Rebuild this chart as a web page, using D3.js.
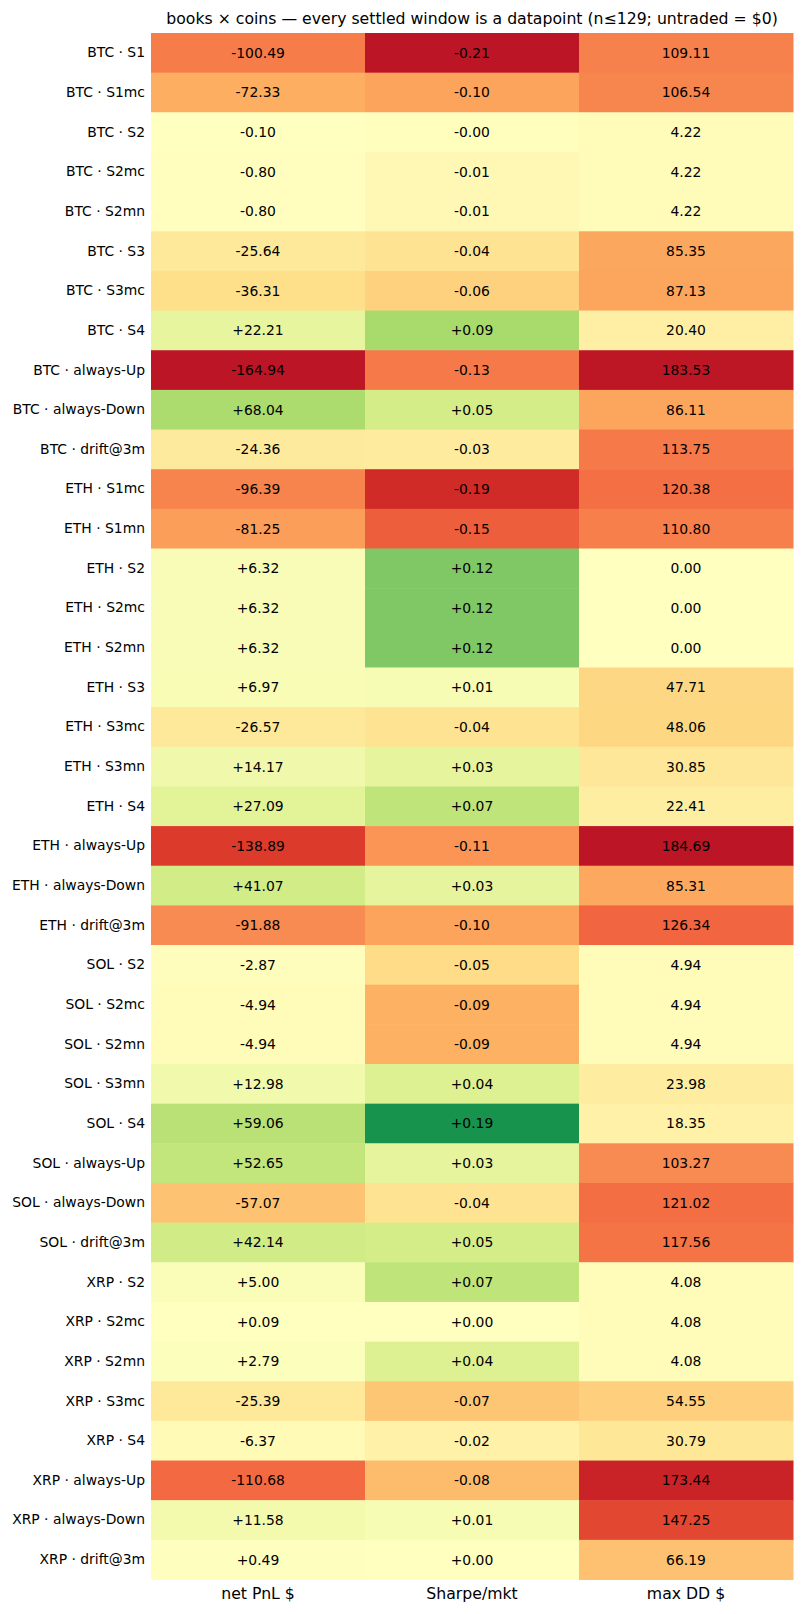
<!DOCTYPE html>
<html>
<head>
<meta charset="utf-8">
<script src="https://cdn.jsdelivr.net/npm/d3@7"></script>
<style>
  body { margin: 0; background: #fff; }
  text { font-family: "DejaVu Sans", sans-serif; fill: #000; }
</style>
</head>
<body>
<div id="heat"></div>
<script>
// row labels (book x coin)
const rows = [
  "BTC · S1", "BTC · S1mc", "BTC · S2", "BTC · S2mc", "BTC · S2mn", "BTC · S3", "BTC · S3mc", "BTC · S4",
  "BTC · always-Up", "BTC · always-Down", "BTC · drift@3m",
  "ETH · S1mc", "ETH · S1mn", "ETH · S2", "ETH · S2mc", "ETH · S2mn", "ETH · S3", "ETH · S3mc", "ETH · S3mn",
  "ETH · S4", "ETH · always-Up", "ETH · always-Down", "ETH · drift@3m",
  "SOL · S2", "SOL · S2mc", "SOL · S2mn", "SOL · S3mn", "SOL · S4", "SOL · always-Up", "SOL · always-Down", "SOL · drift@3m",
  "XRP · S2", "XRP · S2mc", "XRP · S2mn", "XRP · S3mc", "XRP · S4", "XRP · always-Up", "XRP · always-Down", "XRP · drift@3m"
]
const columns = ["net PnL $", "Sharpe/mkt", "max DD $"]

const netPnl = [
  -100.49, -72.33, -0.10, -0.80, -0.80, -25.64, -36.31, 22.21,
  -164.94, 68.04, -24.36,
  -96.39, -81.25, 6.32, 6.32, 6.32, 6.97, -26.57, 14.17,
  27.09, -138.89, 41.07, -91.88,
  -2.87, -4.94, -4.94, 12.98, 59.06, 52.65, -57.07, 42.14,
  5.00, 0.09, 2.79, -25.39, -6.37, -110.68, 11.58, 0.49
]
const sharpe = [
  -0.21, -0.10, -0.002, -0.01, -0.01, -0.04, -0.06, 0.09,
  -0.13, 0.05, -0.03,
  -0.19, -0.15, 0.12, 0.12, 0.12, 0.01, -0.04, 0.03,
  0.07, -0.11, 0.03, -0.10,
  -0.05, -0.09, -0.09, 0.04, 0.19, 0.03, -0.04, 0.05,
  0.07, 0.00, 0.04, -0.07, -0.02, -0.08, 0.01, 0.00
]
const maxDD = [
  109.11, 106.54, 4.22, 4.22, 4.22, 85.35, 87.13, 20.40,
  183.53, 86.11, 113.75,
  120.38, 110.80, 0.00, 0.00, 0.00, 47.71, 48.06, 30.85,
  22.41, 184.69, 85.31, 126.34,
  4.94, 4.94, 4.94, 23.98, 18.35, 103.27, 121.02, 117.56,
  4.08, 4.08, 4.08, 54.55, 30.79, 173.44, 147.25, 66.19
]

const W = 804, H = 1614
const margin = {top: 33, right: 11, bottom: 34.5, left: 151}
const width = W - margin.left - margin.right
const height = H - margin.top - margin.bottom
const fs = "13.9px"

// each column coloured on its own scale; drawdown counts as bad (negated)
const series = [
  {vals: netPnl, sign: 1, fmt: v => (v < 0 ? "-" : "+") + Math.abs(v).toFixed(2)},
  {vals: sharpe, sign: 1, fmt: v => (v < 0 ? "-" : "+") + Math.abs(v).toFixed(2)},
  {vals: maxDD, sign: -1, fmt: v => v.toFixed(2)}
]

const cells = []
series.forEach((s, j) => {
  const m = d3.max(s.vals, v => Math.abs(v)) * 1.1
  s.vals.forEach((v, i) => {
    cells.push({row: rows[i], col: columns[j], value: v, t: 0.5 + s.sign * v / (2 * m), text: s.fmt(v)})
  })
})

// matplotlib-style linear RdYlGn
const pal = d3.schemeRdYlGn[11]
const color = d3.scaleLinear()
  .domain(d3.range(11).map(k => k / 10))
  .range(pal)
  .clamp(true)

const svg = d3.select("#heat")
  .append("svg")
  .attr("width", W)
  .attr("height", H)

svg.append("rect").attr("width", W).attr("height", H).attr("fill", "#fff")

const g = svg.append("g")
  .attr("transform", `translate(${margin.left},${margin.top})`)

const x = d3.scaleBand().domain(columns).range([0, width])
const y = d3.scaleBand().domain(rows).range([0, height])

g.selectAll("rect.cell")
  .data(cells)
  .join("rect")
  .attr("class", "cell")
  .attr("x", d => x(d.col))
  .attr("y", d => y(d.row))
  .attr("width", x.bandwidth() + 0.5)
  .attr("height", y.bandwidth() + 0.5)
  .attr("fill", d => color(d.t))

g.selectAll("text.annot")
  .data(cells)
  .join("text")
  .attr("class", "annot")
  .attr("x", d => x(d.col) + x.bandwidth() / 2)
  .attr("y", d => y(d.row) + y.bandwidth() / 2)
  .attr("dy", "0.36em")
  .attr("text-anchor", "middle")
  .style("font-size", fs)
  .text(d => d.text)

// axes without tick marks
const yAxis = g.append("g")
  .call(d3.axisLeft(y).tickSize(0).tickPadding(6))
yAxis.select(".domain").remove()
yAxis.selectAll("text").style("font-size", fs).style("font-family", "DejaVu Sans")

const xAxis = g.append("g")
  .attr("transform", `translate(0,${height})`)
  .call(d3.axisBottom(x).tickSize(0).tickPadding(8))
xAxis.select(".domain").remove()
xAxis.selectAll("text").style("font-size", "15.7px").style("font-family", "DejaVu Sans")

svg.append("text")
  .attr("x", margin.left + width / 2)
  .attr("y", 24)
  .attr("text-anchor", "middle")
  .style("font-size", "15.7px")
  .text("books × coins — every settled window is a datapoint (n≤129; untraded = $0)")
</script>
</body>
</html>
